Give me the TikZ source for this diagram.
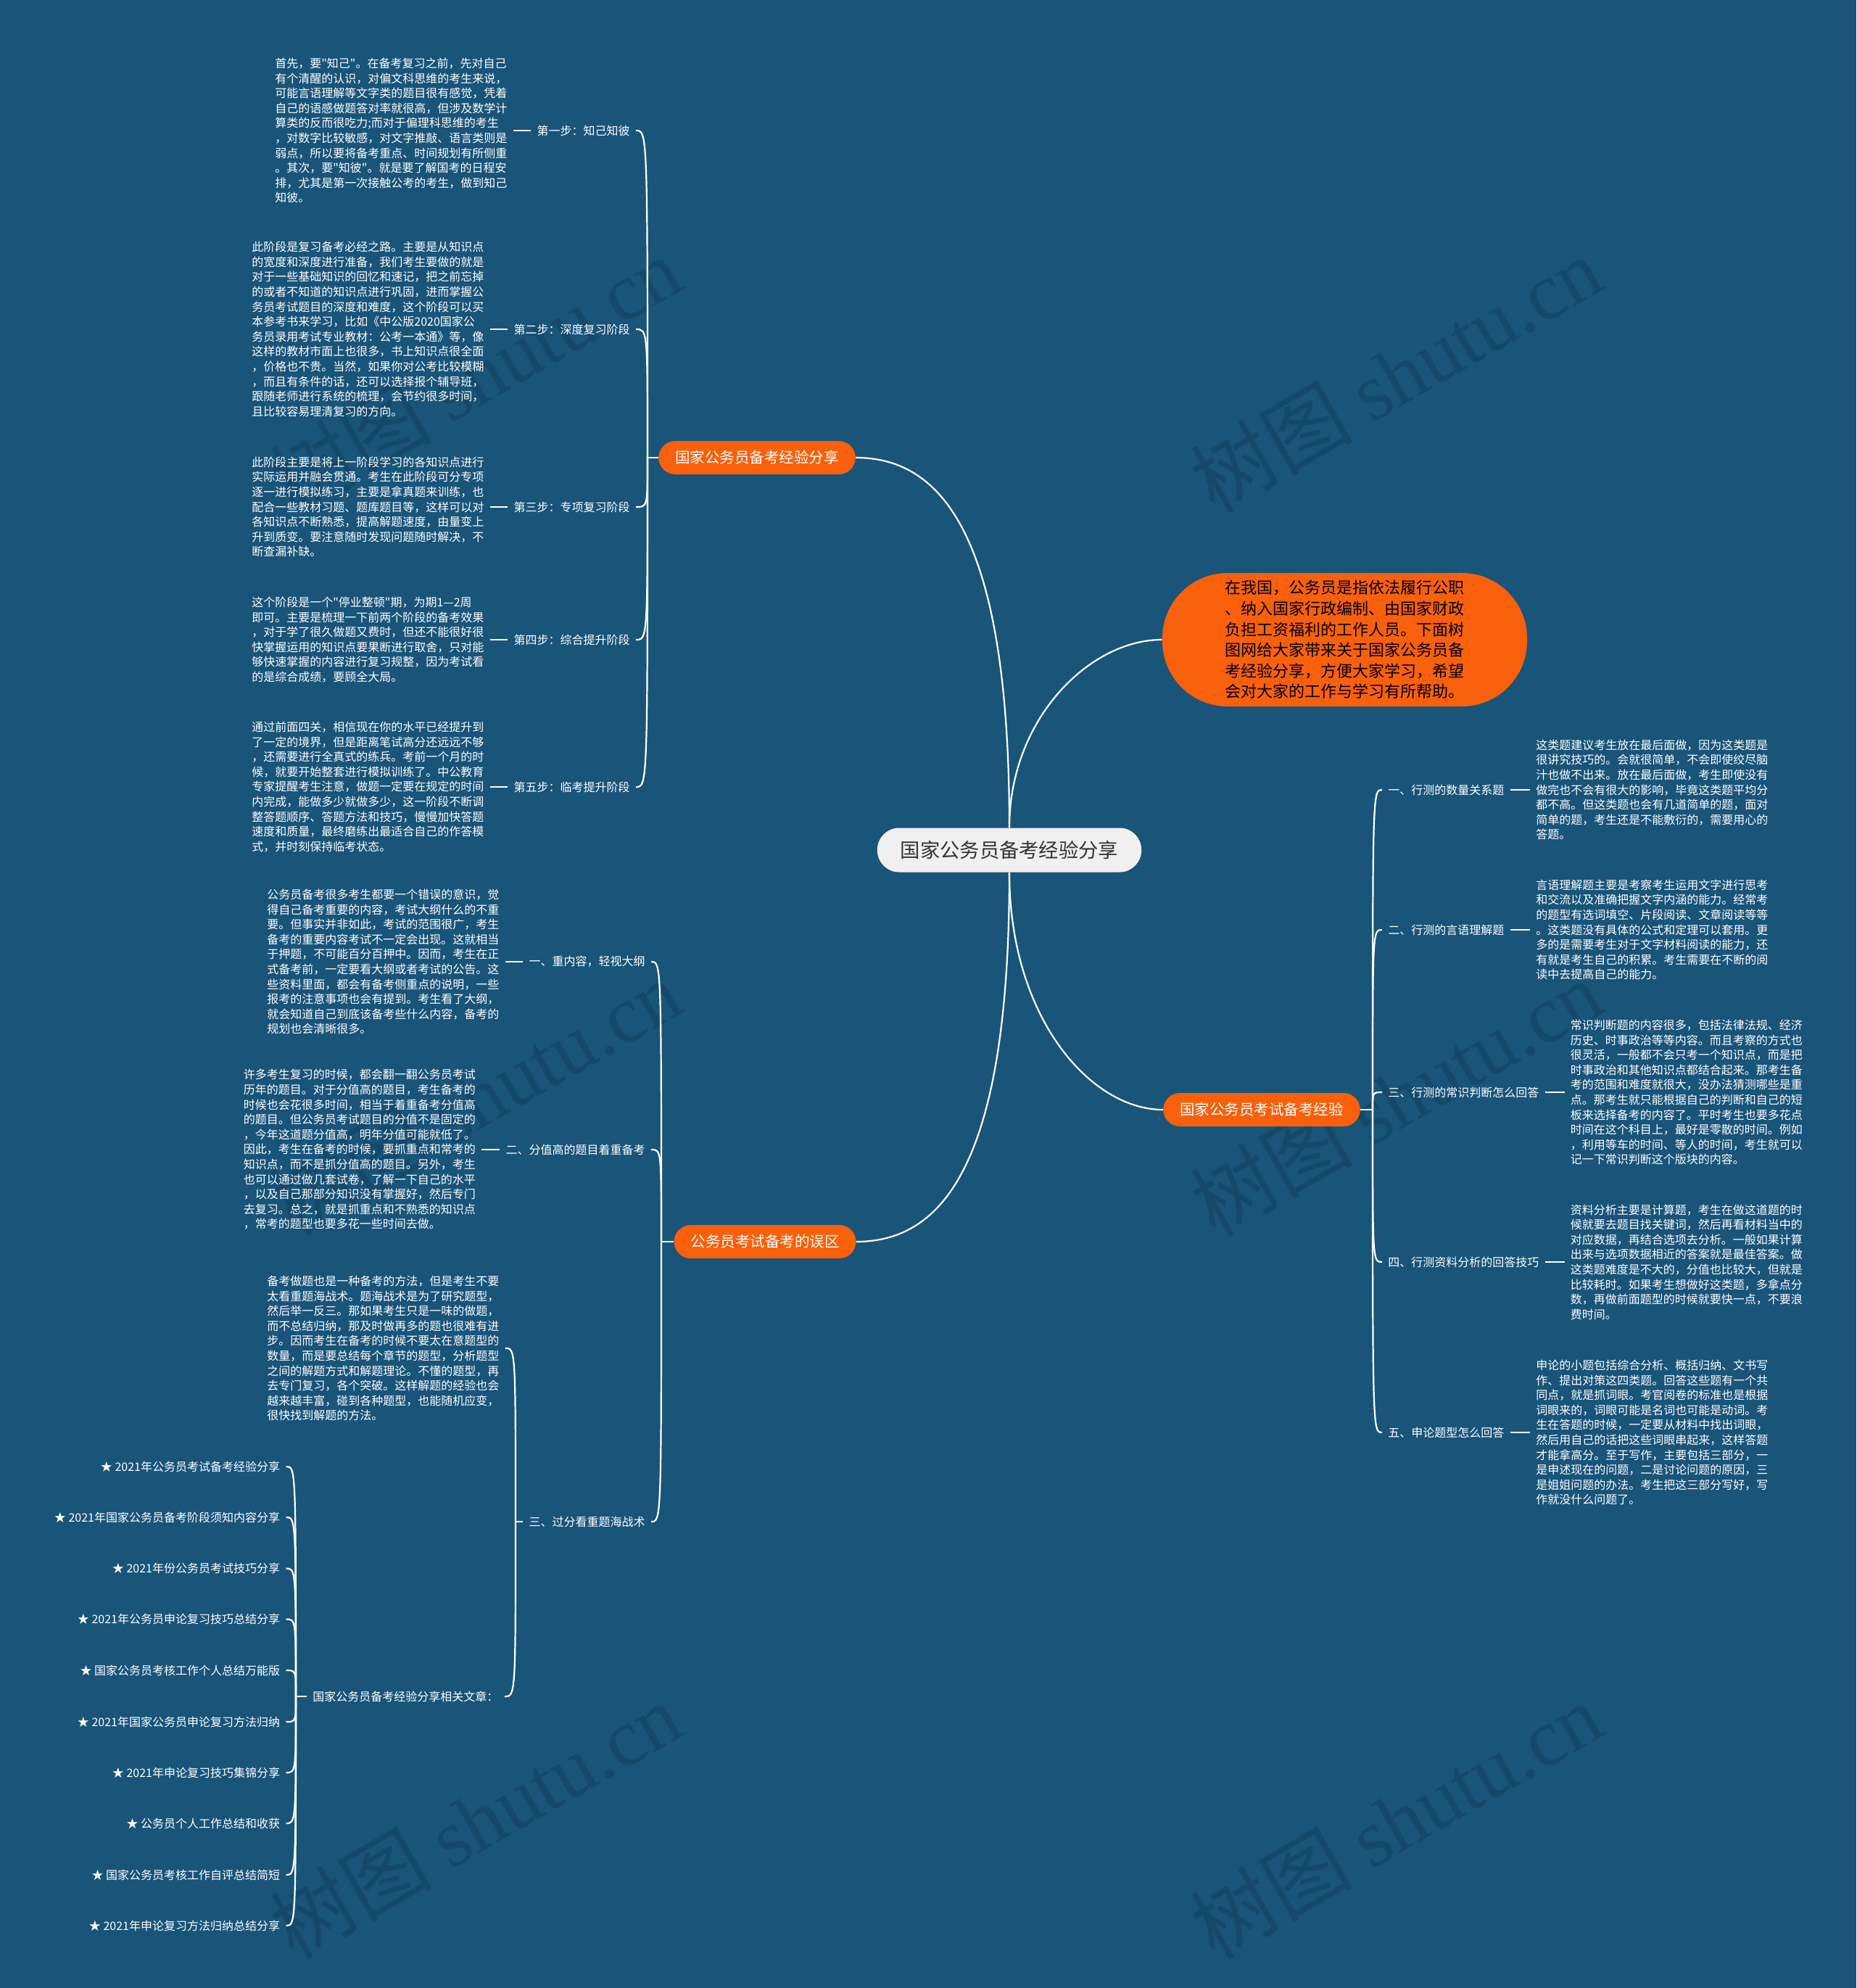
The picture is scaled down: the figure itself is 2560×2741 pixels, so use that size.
\documentclass[tikz,border=0pt]{standalone}
\usepackage{fontspec}
\setmainfont{Noto Sans CJK SC}
\newfontfamily\wmfont{Liberation Serif}
\newcommand\dq{\XeTeXglyph\XeTeXcharglyph"22\relax}
\definecolor{bg}{RGB}{25,84,121}
\definecolor{wmc}{RGB}{21,73,106}
\definecolor{orng}{RGB}{249,96,11}
\definecolor{cgray}{RGB}{240,240,240}
\definecolor{ctext}{RGB}{51,51,51}
\tikzset{
  conn/.style={draw=white, line width=1.1pt},
  txt/.style={text=white, font=\fontsize{8}{10.3}\selectfont, align=left, inner xsep=4pt, inner ysep=1pt},
  lbl/.style={text=white, font=\fontsize{8}{10}\selectfont, inner xsep=4pt, inner ysep=1pt},
  brnode/.style={fill=orng, text=white, font=\fontsize{10.25}{12}\selectfont, rounded corners=11.5pt, minimum height=23pt, inner xsep=11.5pt, inner ysep=0pt},
  wm/.style={text=wmc, font=\fontsize{56}{64}\selectfont, rotate=30, inner sep=0pt},
}
\begin{document}
\begin{tikzpicture}[x=0.5pt,y=-0.5pt]
\useasboundingbox (0,0) rectangle (2560,2741);
\fill[bg] (0,0) rectangle (2560,2741);

% watermarks
\node[wm] (wm1) at (655,516) {树图 {\wmfont shutu.cn}};
\node[wm] (wm2) at (1925,516) {树图 {\wmfont shutu.cn}};
\node[wm] (wm3) at (655,1513) {树图 {\wmfont shutu.cn}};
\node[wm] (wm4) at (1925,1513) {树图 {\wmfont shutu.cn}};
\node[wm] (wm5) at (655,2510) {树图 {\wmfont shutu.cn}};
\node[wm] (wm6) at (1925,2510) {树图 {\wmfont shutu.cn}};

% center and main branches
\node[fill=cgray, text=ctext, font=\fontsize{13.65}{16}\selectfont, rounded corners=15pt, minimum height=30.5pt, inner xsep=16pt, inner ysep=0pt] (c) at (1392,1172) {国家公务员备考经验分享};
\node[brnode] (b1) at (1044,631) {国家公务员备考经验分享};
\node[brnode] (b2) at (1055,1712) {公务员考试备考的误区};
\node[brnode] (b3) at (1740,1530) {国家公务员考试备考经验};
\node[fill=orng, text={RGB:red,255;green,246;blue,236}, font=\fontsize{11}{14.3}\selectfont, align=left, minimum width=251.5pt, minimum height=92pt, rounded corners=45pt, inner ysep=2pt] (intro) at (1854.5,882) {在我国，公务员是指依法履行公职\\
、纳入国家行政编制、由国家财政\\
负担工资福利的工作人员。下面树\\
图网给大家带来关于国家公务员备\\
考经验分享，方便大家学习，希望\\
会对大家的工作与学习有所帮助。};

\draw[conn] (c.north) .. controls +(0,-400) and +(120,0) .. (b1.east);
\draw[conn] (c.north) .. controls +(0,-150) and +(-100,0) .. (intro.west);
\draw[conn] (c.south) .. controls +(0,400) and +(120,0) .. (b2.east);
\draw[conn] (c.south) .. controls +(0,200) and +(-100,0) .. (b3.west);

% ---------- branch 1 ----------
\node[lbl, anchor=east] (l1) at (877,180) {第一步：知己知彼};
\node[lbl, anchor=east] (l2) at (877,454) {第二步：深度复习阶段};
\node[lbl, anchor=east] (l3) at (877,699) {第三步：专项复习阶段};
\node[lbl, anchor=east] (l4) at (877,882) {第四步：综合提升阶段};
\node[lbl, anchor=east] (l5) at (877,1085) {第五步：临考提升阶段};

\node[txt, anchor=west] (s1) at (371,180) {首先，要\dq 知己\dq 。在备考复习之前，先对自己\\
有个清醒的认识，对偏文科思维的考生来说，\\
可能言语理解等文字类的题目很有感觉，凭着\\
自己的语感做题答对率就很高，但涉及数学计\\
算类的反而很吃力;而对于偏理科思维的考生\\
，对数字比较敏感，对文字推敲、语言类则是\\
弱点，所以要将备考重点、时间规划有所侧重\\
。其次，要\dq 知彼\dq 。就是要了解国考的日程安\\
排，尤其是第一次接触公考的考生，做到知己\\
知彼。};
\node[txt, anchor=west] (s2) at (339,454) {此阶段是复习备考必经之路。主要是从知识点\\
的宽度和深度进行准备，我们考生要做的就是\\
对于一些基础知识的回忆和速记，把之前忘掉\\
的或者不知道的知识点进行巩固，进而掌握公\\
务员考试题目的深度和难度，这个阶段可以买\\
本参考书来学习，比如《中公版2020国家公\\
务员录用考试专业教材：公考一本通》等，像\\
这样的教材市面上也很多，书上知识点很全面\\
，价格也不贵。当然，如果你对公考比较模糊\\
，而且有条件的话，还可以选择报个辅导班，\\
跟随老师进行系统的梳理，会节约很多时间，\\
且比较容易理清复习的方向。};
\node[txt, anchor=west] (s3) at (339,699) {此阶段主要是将上一阶段学习的各知识点进行\\
实际运用并融会贯通。考生在此阶段可分专项\\
逐一进行模拟练习，主要是拿真题来训练，也\\
配合一些教材习题、题库题目等，这样可以对\\
各知识点不断熟悉，提高解题速度，由量变上\\
升到质变。要注意随时发现问题随时解决，不\\
断查漏补缺。};
\node[txt, anchor=west] (s4) at (339,882) {这个阶段是一个\dq 停业整顿\dq 期，为期1—2周\\
即可。主要是梳理一下前两个阶段的备考效果\\
，对于学了很久做题又费时，但还不能很好很\\
快掌握运用的知识点要果断进行取舍，只对能\\
够快速掌握的内容进行复习规整，因为考试看\\
的是综合成绩，要顾全大局。};
\node[txt, anchor=west] (s5) at (339,1085) {通过前面四关，相信现在你的水平已经提升到\\
了一定的境界，但是距离笔试高分还远远不够\\
，还需要进行全真式的练兵。考前一个月的时\\
候，就要开始整套进行模拟训练了。中公教育\\
专家提醒考生注意，做题一定要在规定的时间\\
内完成，能做多少就做多少，这一阶段不断调\\
整答题顺序、答题方法和技巧，慢慢加快答题\\
速度和质量，最终磨练出最适合自己的作答模\\
式，并时刻保持临考状态。};

\coordinate (p1) at (893,631);
\draw[conn] (b1.west) -- (p1);
\foreach \n in {l1,l2,l3,l4,l5}
  \draw[conn] (p1) .. controls (p1 |- \n.east) and (p1 |- \n.east) .. (\n.east);
\foreach \a/\b in {s1/l1,s2/l2,s3/l3,s4/l4,s5/l5}
  \draw[conn] (\b.west) -- (\b.west -| \a.east);

% ---------- branch 2 ----------
\node[lbl, anchor=east] (w1l) at (898,1326) {一、重内容，轻视大纲};
\node[lbl, anchor=east] (w2l) at (898,1585) {二、分值高的题目着重备考};
\node[lbl, anchor=east] (w3l) at (898,2098) {三、过分看重题海战术};

\node[txt, anchor=west] (w1) at (360,1326) {公务员备考很多考生都要一个错误的意识，觉\\
得自己备考重要的内容，考试大纲什么的不重\\
要。但事实并非如此，考试的范围很广，考生\\
备考的重要内容考试不一定会出现。这就相当\\
于押题，不可能百分百押中。因而，考生在正\\
式备考前，一定要看大纲或者考试的公告。这\\
些资料里面，都会有备考侧重点的说明，一些\\
报考的注意事项也会有提到。考生看了大纲，\\
就会知道自己到底该备考些什么内容，备考的\\
规划也会清晰很多。};
\node[txt, anchor=west] (w2) at (327.5,1585) {许多考生复习的时候，都会翻一翻公务员考试\\
历年的题目。对于分值高的题目，考生备考的\\
时候也会花很多时间，相当于着重备考分值高\\
的题目。但公务员考试题目的分值不是固定的\\
，今年这道题分值高，明年分值可能就低了。\\
因此，考生在备考的时候，要抓重点和常考的\\
知识点，而不是抓分值高的题目。另外，考生\\
也可以通过做几套试卷，了解一下自己的水平\\
，以及自己那部分知识没有掌握好，然后专门\\
去复习。总之，就是抓重点和不熟悉的知识点\\
，常考的题型也要多花一些时间去做。};
\node[txt, anchor=west] (w3) at (360,1859) {备考做题也是一种备考的方法，但是考生不要\\
太看重题海战术。题海战术是为了研究题型，\\
然后举一反三。那如果考生只是一味的做题，\\
而不总结归纳，那及时做再多的题也很难有进\\
步。因而考生在备考的时候不要太在意题型的\\
数量，而是要总结每个章节的题型，分析题型\\
之间的解题方式和解题理论。不懂的题型，再\\
去专门复习，各个突破。这样解题的经验也会\\
越来越丰富，碰到各种题型，也能随机应变，\\
很快找到解题的方法。};
\node[lbl, anchor=west] (rel) at (423,2339) {国家公务员备考经验分享相关文章：};

\coordinate (p2) at (912,1712);
\draw[conn] (b2.west) -- (p2);
\foreach \n in {w1l,w2l,w3l}
  \draw[conn] (p2) .. controls (p2 |- \n.east) and (p2 |- \n.east) .. (\n.east);
\draw[conn] (w1l.west) -- (w1l.west -| w1.east);
\draw[conn] (w2l.west) -- (w2l.west -| w2.east);

\coordinate (p3) at (711,2098);
\draw[conn] (w3l.west) -- (p3);
\foreach \n in {w3,rel}
  \draw[conn] (p3) .. controls (p3 |- \n.east) and (p3 |- \n.east) .. (\n.east);

% related articles
\node[lbl, anchor=east] (it1) at (394.5,2022) {★ 2021年公务员考试备考经验分享};
\node[lbl, anchor=east] (it2) at (394.5,2092) {★ 2021年国家公务员备考阶段须知内容分享};
\node[lbl, anchor=east] (it3) at (394.5,2162.5) {★ 2021年份公务员考试技巧分享};
\node[lbl, anchor=east] (it4) at (394.5,2232.5) {★ 2021年公务员申论复习技巧总结分享};
\node[lbl, anchor=east] (it5) at (394.5,2303) {★ 国家公务员考核工作个人总结万能版};
\node[lbl, anchor=east] (it6) at (394.5,2374) {★ 2021年国家公务员申论复习方法归纳};
\node[lbl, anchor=east] (it7) at (394.5,2444) {★ 2021年申论复习技巧集锦分享};
\node[lbl, anchor=east] (it8) at (394.5,2514) {★ 公务员个人工作总结和收获};
\node[lbl, anchor=east] (it9) at (394.5,2585) {★ 国家公务员考核工作自评总结简短};
\node[lbl, anchor=east] (it10) at (394.5,2655) {★ 2021年申论复习方法归纳总结分享};

\coordinate (p4) at (408,2339);
\draw[conn] (rel.west) -- (p4);
\foreach \n in {it1,it2,it3,it4,it5,it6,it7,it8,it9,it10}
  \draw[conn] (p4) .. controls (p4 |- \n.east) and (p4 |- \n.east) .. (\n.east);

% ---------- right branch ----------
\node[lbl, anchor=west] (r1l) at (1906,1089) {一、行测的数量关系题};
\node[lbl, anchor=west] (r2l) at (1906,1282) {二、行测的言语理解题};
\node[lbl, anchor=west] (r3l) at (1906,1506) {三、行测的常识判断怎么回答};
\node[lbl, anchor=west] (r4l) at (1906,1740) {四、行测资料分析的回答技巧};
\node[lbl, anchor=west] (r5l) at (1906,1975) {五、申论题型怎么回答};

\node[txt, anchor=west] (r1) at (2110,1089) {这类题建议考生放在最后面做，因为这类题是\\
很讲究技巧的。会就很简单，不会即使绞尽脑\\
汁也做不出来。放在最后面做，考生即使没有\\
做完也不会有很大的影响，毕竟这类题平均分\\
都不高。但这类题也会有几道简单的题，面对\\
简单的题，考生还是不能敷衍的，需要用心的\\
答题。};
\node[txt, anchor=west] (r2) at (2110,1282) {言语理解题主要是考察考生运用文字进行思考\\
和交流以及准确把握文字内涵的能力。经常考\\
的题型有选词填空、片段阅读、文章阅读等等\\
。这类题没有具体的公式和定理可以套用。更\\
多的是需要考生对于文字材料阅读的能力，还\\
有就是考生自己的积累。考生需要在不断的阅\\
读中去提高自己的能力。};
\node[txt, anchor=west] (r3) at (2157.5,1506) {常识判断题的内容很多，包括法律法规、经济\\
历史、时事政治等等内容。而且考察的方式也\\
很灵活，一般都不会只考一个知识点，而是把\\
时事政治和其他知识点都结合起来。那考生备\\
考的范围和难度就很大，没办法猜测哪些是重\\
点。那考生就只能根据自己的判断和自己的短\\
板来选择备考的内容了。平时考生也要多花点\\
时间在这个科目上，最好是零散的时间。例如\\
，利用等车的时间、等人的时间，考生就可以\\
记一下常识判断这个版块的内容。};
\node[txt, anchor=west] (r4) at (2157.5,1740) {资料分析主要是计算题，考生在做这道题的时\\
候就要去题目找关键词，然后再看材料当中的\\
对应数据，再结合选项去分析。一般如果计算\\
出来与选项数据相近的答案就是最佳答案。做\\
这类题难度是不大的，分值也比较大，但就是\\
比较耗时。如果考生想做好这类题，多拿点分\\
数，再做前面题型的时候就要快一点，不要浪\\
费时间。};
\node[txt, anchor=west] (r5) at (2110,1975) {申论的小题包括综合分析、概括归纳、文书写\\
作、提出对策这四类题。回答这些题有一个共\\
同点，就是抓词眼。考官阅卷的标准也是根据\\
词眼来的，词眼可能是名词也可能是动词。考\\
生在答题的时候，一定要从材料中找出词眼，\\
然后用自己的话把这些词眼串起来，这样答题\\
才能拿高分。至于写作，主要包括三部分，一\\
是申述现在的问题，二是讨论问题的原因，三\\
是姐姐问题的办法。考生把这三部分写好，写\\
作就没什么问题了。};

\coordinate (p5) at (1893,1530);
\draw[conn] (b3.east) -- (p5);
\foreach \n in {r1l,r2l,r3l,r4l,r5l}
  \draw[conn] (p5) .. controls (p5 |- \n.west) and (p5 |- \n.west) .. (\n.west);
\foreach \a/\b in {r1/r1l,r2/r2l,r3/r3l,r4/r4l,r5/r5l}
  \draw[conn] (\b.east) -- (\b.east -| \a.west);
\end{tikzpicture}
\end{document}
